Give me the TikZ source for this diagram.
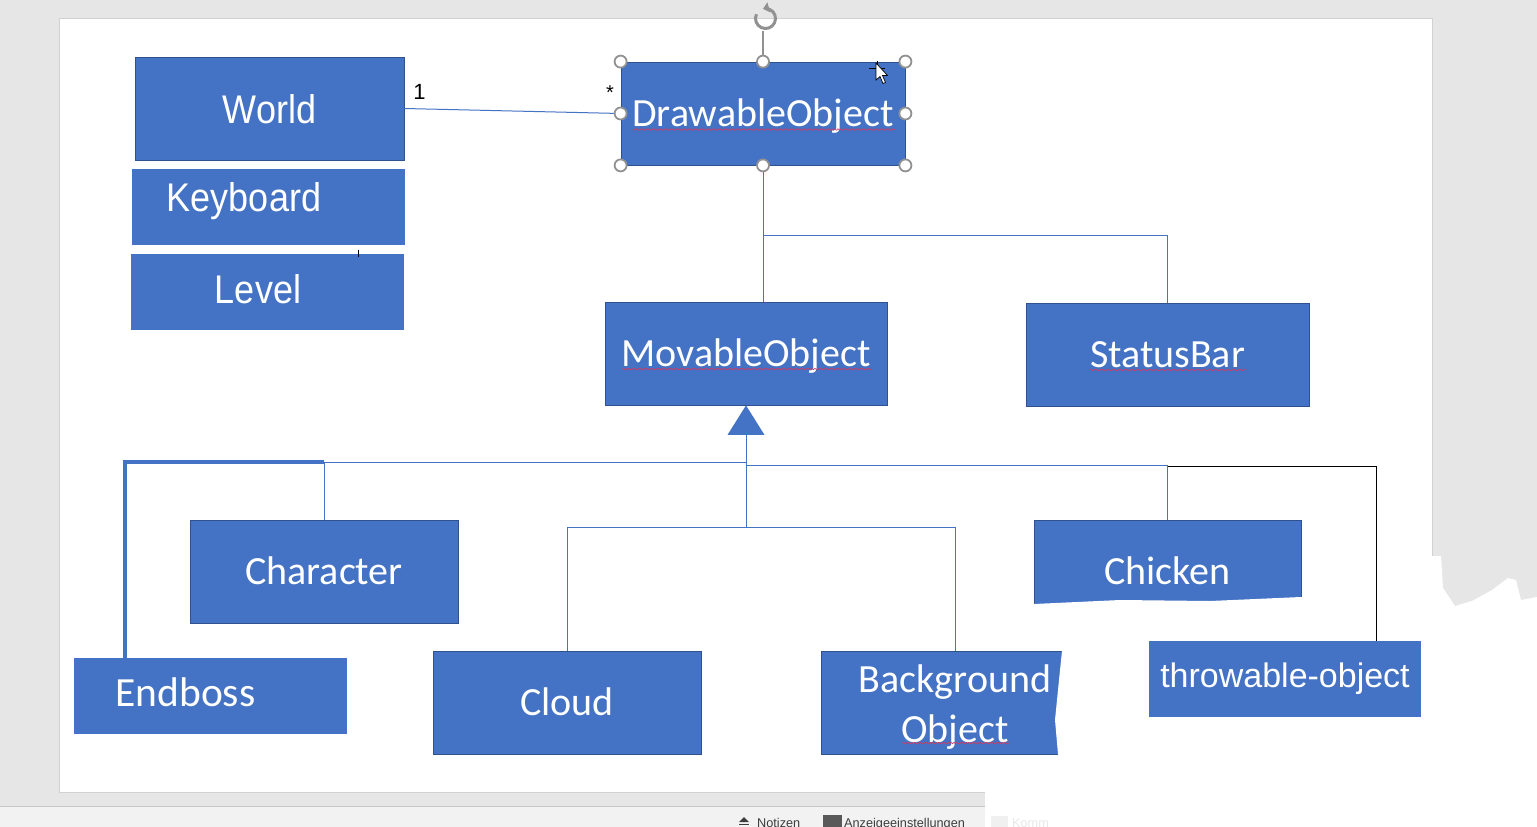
\documentclass[tikz,border=0pt]{standalone}
\usepackage{fontspec}
\setmainfont{Liberation Sans}
\newfontfamily\arialfont[FakeStretch=0.9]{Liberation Sans}
\newfontfamily\calfont{Carlito}
\usetikzlibrary{decorations.pathmorphing,arrows.meta}

\definecolor{boxblue}{RGB}{68,114,196}
\definecolor{boxedge}{RGB}{47,82,143}
\definecolor{paneGrey}{RGB}{230,230,231}
\definecolor{barGrey}{RGB}{242,242,242}
\definecolor{handleGrey}{RGB}{145,145,145}
\definecolor{spellRed}{RGB}{205,60,100}
\definecolor{statusText}{RGB}{60,60,60}

\tikzset{
  box/.style={fill=boxblue, draw=boxedge, line width=0.8pt, text=white, inner sep=0pt},
  flatbox/.style={box, draw=none},
  arialtxt/.style={font=\arialfont\fontsize{40}{48}\selectfont, text height=29pt, text depth=0pt},
  caltxt/.style={font=\calfont\fontsize{40}{48}\selectfont, text height=26pt, text depth=0pt},
  conn/.style={draw=boxblue, line width=1pt},
  bossline/.style={draw=boxblue, line width=4pt},
  blackline/.style={draw=black, line width=1pt},
  handle/.style={draw=handleGrey, fill=white, line width=1.8pt},
  spell/.style={draw=spellRed, line width=0.6pt, decorate,
    decoration={snake, amplitude=0.8pt, segment length=3pt}},
  statuslbl/.style={font=\fontsize{12.7}{14}\selectfont, text=statusText, inner sep=0pt, anchor=base west}
}

\begin{document}
\begin{tikzpicture}[x=1pt,y=1pt,yscale=-1,xscale=1]
\useasboundingbox (0,0) rectangle (1537,827);

%Shape: Window and slide
\fill[paneGrey] (0,0) rectangle (1537,806);
\fill[barGrey] (0,806) rectangle (1537,827);
\draw[black!22] (0,806.5) -- (1537,806.5);
\draw[black!18, fill=white] (59,18) rectangle (1432,792);

%Status bar
\fill[statusText] (739,822) -- (749,822) -- (744,817) -- cycle;
\draw[statusText, line width=0.8pt] (739,824.5) -- (749,824.5);
\node[statuslbl] (notes) at (757,827) {Notizen};
\fill[black!65] (823,815) rectangle (842,830);
\node[statuslbl] (display) at (844,827) {Anzeigeeinstellungen};

%Shape: Class boxes
\node[box, arialtxt, minimum width=269pt, minimum height=103pt] (world) at (269.5,108.5) {World};
\node[flatbox, arialtxt, text depth=20pt, minimum width=273pt, minimum height=76pt] (keyboard) at (268.5,207) {Keyboard\hspace*{49pt}};
\node[flatbox, arialtxt, text depth=6pt, minimum width=273pt, minimum height=76pt] (level) at (267.5,292) {Level\hspace*{19pt}};
\node[box, caltxt, minimum width=284pt, minimum height=103pt] (drawable) at (763,113.5) {DrawableObject};
\node[box, caltxt, minimum width=282pt, minimum height=103pt] (movable) at (746,353.5) {MovableObject};
\node[box, caltxt, minimum width=283pt, minimum height=103pt] (statusbar) at (1167.5,354.5) {StatusBar};
\node[box, caltxt, minimum width=268pt, minimum height=103pt] (character) at (324,571.5) {Character};
\node[flatbox, caltxt, font=\calfont\fontsize{41.5}{48}\selectfont, text depth=6pt, minimum width=273pt, minimum height=76pt] (endboss) at (210.5,696) {Endboss\hspace*{50pt}};
\node[box, caltxt, minimum width=268pt, minimum height=103pt] (cloud) at (567,702.5) {Cloud};
\node[box, font=\calfont\fontsize{40}{49.5}\selectfont, align=center, minimum width=268pt, minimum height=103pt] (background) at (955,702.5) {\rule{0pt}{37pt}Background\\Object};
\node[box, caltxt, minimum width=267pt, minimum height=103pt] (chicken) at (1167.5,571.5) {Chicken};

% Text Node
\node[font=\fontsize{22}{24}\selectfont, text height=16pt, text depth=0pt, inner sep=0pt] (one) at (419.5,91) {1};
\node[font=\fontsize{20}{22}\selectfont, inner sep=0pt] (many) at (610,92.5) {*};

%Straight Lines
\draw[conn] (world.east) -- (drawable.west);
\draw[conn] (drawable.south) -- ++(0,70) coordinate (fork) -| (statusbar.north);
\draw[conn] (fork) -- (fork |- movable.north);
\path (movable.south) ++(0,29.5) coordinate (tribase);
\fill[boxblue] (movable.south) -- ++(-18.5,29.5) -- ++(37,0) -- cycle;
\draw[conn] (tribase) -- ++(0,93) coordinate (split);
\draw[conn] (split) -| (cloud.north);
\draw[conn] (split) -| (background.north);
\coordinate (leftbar) at (746,462);
\coordinate (rightbar) at (746,465);
\draw[conn] (leftbar) -| (character.north);
\draw[conn] (rightbar) -| (chicken.north);
\coordinate (bossfoot) at (125,658);
\draw[bossline] (bossfoot) |- (character.north |- leftbar);
\draw[black, line width=0.8pt] (358,249.5) -- (358,257);

%Spelling marks
\draw[spell] (633,129.5) -- (895,129.5);
\draw[spell] (622,369) -- (872,369);
\draw[spell] (1090,370) -- (1246,370);
\draw[spell] (902,743) -- (1009,743);

%Shape: Erased area
\fill[white] (1034,604) -- (1120,600) -- (1210,601) -- (1301,597) -- (1431,597) -- (1431,556)
  -- (1441,556) -- (1443,588) -- (1455,606) -- (1472,601) -- (1492,590) -- (1508,578)
  -- (1516,580) -- (1521,600) -- (1537,597) -- (1537,827) -- (985,827) -- (985,792)
  -- (1058,792) -- (1058,754) -- (1055,720) -- (1059,680) -- (1062,651) -- (1040,645)
  -- (1034,630) -- cycle;
\fill[black!6] (991,816) rectangle (1008,830);
\node[statuslbl, text=black!9] (comments) at (1012,827) {Komm};

\node[flatbox, font=\fontsize{34}{40}\selectfont, text height=24pt, text depth=8pt, minimum width=272pt, minimum height=76pt] (throwable) at (1285,679) {throwable-object};
\coordinate (blackstart) at (1168,466);
\coordinate (throwfoot) at (1376,641);
\draw[blackline] (blackstart) -| (throwfoot);

%Selection handles
\draw[handleGrey, line width=1.4pt] (drawable.north) -- ++(0,-31);
\draw[handleGrey, line width=3pt, -{Triangle[length=6pt,width=10pt]}] (765.5,18.5) ++(205:10) arc[start angle=205, end angle=-105, radius=10];
\foreach \a in {north west, north, north east, east, south east, south, south west, west}
  \draw[handle] (drawable.\a) circle (6);

%Cursor
\draw[black, line width=0.8pt] (869,68) -- (885,68) (877,60.5) -- (877,74);
\draw[black, fill=white, line width=0.7pt] (876,63) -- (876,80) -- (880,76.5) -- (883,83.5) -- (885.5,82.5) -- (882.5,75.5) -- (887.5,75.5) -- cycle;

\end{tikzpicture}
\end{document}
